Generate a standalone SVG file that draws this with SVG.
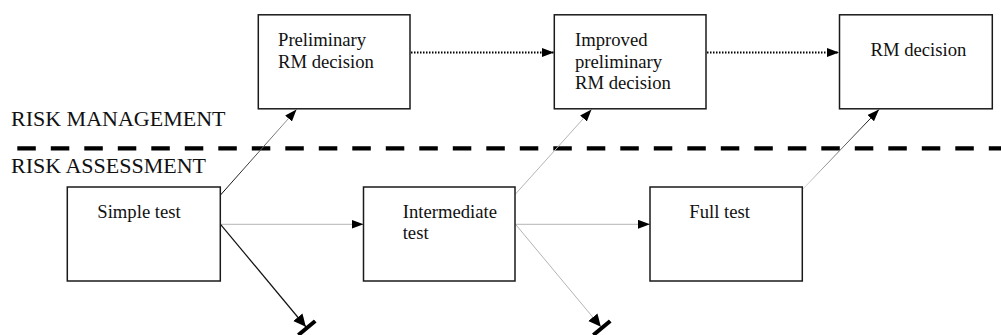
<svg xmlns="http://www.w3.org/2000/svg" width="1001" height="335" viewBox="0 0 1001 335">
<style>
.box{fill:#fff;stroke:#1a1a1a;stroke-width:1.5}
.nt{font-family:"Liberation Serif","Times New Roman",serif;font-size:18.67px;fill:#111}
.lbl{font-family:"Liberation Serif","Times New Roman",serif;font-size:22px;fill:#111}
.dot{stroke:#000;stroke-width:1.8;stroke-dasharray:1.5 1.5;fill:none}
.gray{stroke:#b4b4b4;stroke-width:1;fill:none}
.blk{stroke:#111;stroke-width:1.2;fill:none}
</style>
<defs>
<marker id="arr" markerUnits="userSpaceOnUse" markerWidth="13" markerHeight="10" refX="12" refY="4.5" orient="auto" viewBox="0 0 13 10">
<path d="M0,0 L12,4.5 L0,9 z" fill="#000"/>
</marker>
<marker id="blockend" markerUnits="userSpaceOnUse" markerWidth="17" markerHeight="24" refX="14" refY="11" orient="auto" viewBox="0 0 17 24">
<path d="M0,5 L12.5,11 L0,17 z" fill="#000"/>
<rect x="12" y="0" width="4" height="22" fill="#000"/>
</marker>
<linearGradient id="g1" gradientUnits="userSpaceOnUse" x1="220" y1="195" x2="296" y2="110">
<stop offset="0" stop-color="#000"/><stop offset="1" stop-color="#aaa"/>
</linearGradient>
<linearGradient id="g2" gradientUnits="userSpaceOnUse" x1="802" y1="190" x2="879" y2="110">
<stop offset="0" stop-color="#ddd"/><stop offset="1" stop-color="#000"/>
</linearGradient>
</defs>

<g id="divider">
<line x1="17.3" y1="148.3" x2="1001" y2="148.3" stroke="#000" stroke-width="4.3" stroke-dasharray="18.5 15"/>
<text class="lbl" x="11" y="126">RISK MANAGEMENT</text>
<text class="lbl" x="11" y="172.7">RISK ASSESSMENT</text>
</g>

<g id="connectors">
<line x1="411" y1="52.5" x2="554" y2="52.5" class="dot" marker-end="url(#arr)"/>
<line x1="707" y1="52.5" x2="839" y2="52.5" class="dot" marker-end="url(#arr)"/>
<line x1="220.5" y1="195" x2="296.5" y2="109.5" stroke="url(#g1)" stroke-width="1" marker-end="url(#arr)"/>
<line x1="220.5" y1="224.3" x2="363.5" y2="224.3" class="gray" marker-end="url(#arr)"/>
<line x1="220.5" y1="224.3" x2="306.8" y2="328" class="blk" marker-end="url(#blockend)"/>
<line x1="515.5" y1="194" x2="591.5" y2="109.5" class="gray" marker-end="url(#arr)"/>
<line x1="515.5" y1="224.3" x2="650" y2="224.3" class="gray" marker-end="url(#arr)"/>
<line x1="515.5" y1="224.3" x2="601.8" y2="328" class="gray" marker-end="url(#blockend)"/>
<line x1="802" y1="190" x2="879" y2="109.5" stroke="url(#g2)" stroke-width="1" marker-end="url(#arr)"/>
</g>

<g id="prelim">
<rect class="box" x="258.3" y="14.8" width="151.7" height="94"/>
<text class="nt" x="278" y="46">Preliminary</text>
<text class="nt" x="278" y="67.5">RM decision</text>
</g>
<g id="improved">
<rect class="box" x="554.3" y="14.8" width="151.7" height="94"/>
<text class="nt" x="575" y="46">Improved</text>
<text class="nt" x="575" y="67.5">preliminary</text>
<text class="nt" x="575" y="89">RM decision</text>
</g>
<g id="rmdecision">
<rect class="box" x="839.5" y="14.8" width="152.8" height="94"/>
<text class="nt" x="870.5" y="56">RM decision</text>
</g>
<g id="simple">
<rect class="box" x="67.3" y="187" width="153" height="94"/>
<text class="nt" x="97.3" y="217.7">Simple test</text>
</g>
<g id="intermediate">
<rect class="box" x="363.5" y="187" width="151.5" height="94"/>
<text class="nt" x="402.7" y="217.7">Intermediate</text>
<text class="nt" x="402.7" y="239.3">test</text>
</g>
<g id="full">
<rect class="box" x="650" y="187" width="152.3" height="94"/>
<text class="nt" x="689.3" y="217.7">Full test</text>
</g>
</svg>
